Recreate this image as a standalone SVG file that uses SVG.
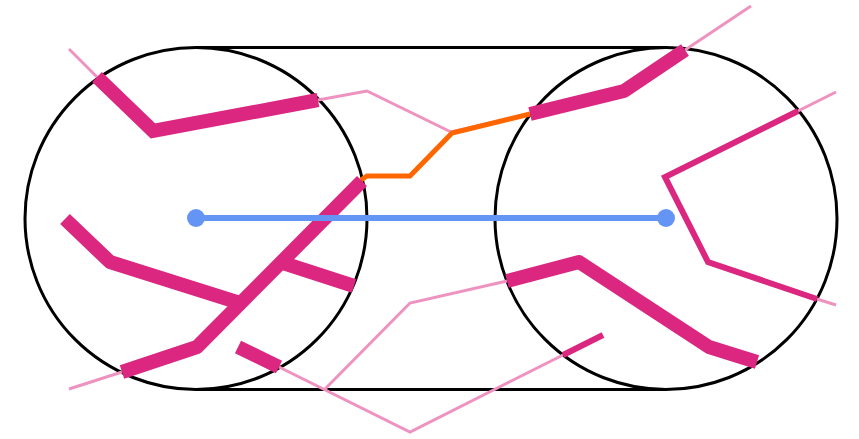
<svg xmlns="http://www.w3.org/2000/svg" width="859" height="439" viewBox="0 0 859 439">
<style>
.frame{fill:none;stroke:#000;stroke-width:3}
.thin{fill:none;stroke:#ee93c0;stroke-width:3;stroke-linejoin:miter}
.thick{fill:none;stroke:#db2780;stroke-width:14;stroke-linejoin:round}
.med{fill:none;stroke:#db2780;stroke-width:6;stroke-linejoin:miter}
.path{fill:none;stroke:#ff6600;stroke-width:5;stroke-linejoin:miter}
.axis{stroke:#6495f5;stroke-width:6}
.dot{fill:#6495f5}
</style>
<g id="frame">
<circle class="frame" cx="196" cy="218.5" r="171"/>
<circle class="frame" cx="666" cy="218.5" r="171"/>
<line class="frame" x1="196" y1="47.5" x2="666" y2="47.5"/>
<line class="frame" x1="196" y1="389.5" x2="666" y2="389.5"/>
</g>
<g id="connectors">
<polyline class="thin" points="69,49 97,77"/>
<polyline class="thin" points="318,100 367,91 451,132 530,114"/>
<polyline class="thin" points="685,50 751,6"/>
<polyline class="thin" points="122,372 69,389"/>
<polyline class="thin" points="279,367 410,432 563,355"/>
<polyline class="thin" points="325,389 410,303 507,281"/>
<polyline class="thin" points="836,92 798,111"/>
<polyline class="thin" points="817,299 836,305"/>
<polyline class="thick" points="97,77 153,131 318,100" style="stroke-linejoin:miter"/>
<polyline class="thick" points="530,114 624,91 685,50"/>
<polyline class="thick" points="65,219 110,262 240,303"/>
<polyline class="thick" points="362,181 197,347 122,372"/>
<polyline class="thick" points="280,262 354,286"/>
<polyline class="thick" points="238,347 279,367"/>
<polyline class="thick" points="507,281 579,262 709,347 757,362"/>
<polyline class="med" points="563,355 603,335"/>
<polyline class="med" points="798,111 665,177 708,262 817,299"/>
<polyline class="path" points="361,180 367,176 410,176 452,133 530,114"/>
</g>
<g id="axis">
<line class="axis" x1="196" y1="218" x2="666" y2="218"/>
<circle class="dot" cx="196" cy="218" r="9"/>
<circle class="dot" cx="666" cy="218" r="9"/>
</g>
</svg>
